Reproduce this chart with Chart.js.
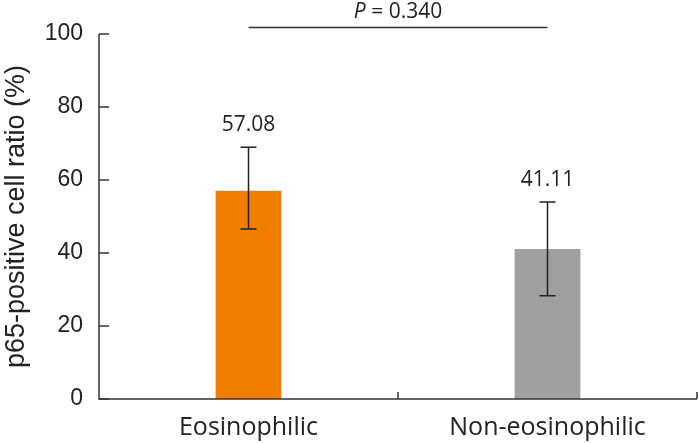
<!DOCTYPE html>
<html><head><meta charset="utf-8">
<script src="https://cdn.jsdelivr.net/npm/chart.js@4.4.1/dist/chart.umd.min.js"></script>
<style>html,body{margin:0;padding:0;background:#fff}#wrap{width:699px;height:443px}</style>
</head><body><div id="wrap"><canvas id="c" width="699" height="443"></canvas></div>
<script>
const categories = ["Eosinophilic", "Non-eosinophilic"];
const means = [57.08, 41.11];
const errLow = [46.6, 28.3];
const errHigh = [69.0, 54.0];
const valueLabels = ["57.08", "41.11"];
const yTicks = [0, 20, 40, 60, 80, 100];
const pText = "0.340";
const pLineValue = 101.8;

const FONT = "'Open Sans', 'Noto Sans', sans-serif";
const AFONT = "'Liberation Sans', Arial, sans-serif";
const TXT = "#222";

const deco = {
  id: 'deco',
  afterDatasetsDraw(chart) {
    const ctx = chart.ctx, xs = chart.scales.x, ys = chart.scales.y;
    const ca = chart.chartArea;
    ctx.save();
    ctx.strokeStyle = "#333"; ctx.lineWidth = 1.5;
    ctx.beginPath();
    ctx.moveTo(ca.left, ys.getPixelForValue(100)); ctx.lineTo(ca.left, ys.getPixelForValue(0));
    ctx.lineTo(ca.right, ys.getPixelForValue(0));
    ctx.stroke();
    yTicks.forEach(v => {
      const y = ys.getPixelForValue(v);
      ctx.beginPath(); ctx.moveTo(ca.left, y); ctx.lineTo(ca.left + 10, y); ctx.stroke();
    });
    const y0 = ys.getPixelForValue(0);
    for (let i = 1; i <= categories.length; i++) {
      const x = i < categories.length ? (xs.getPixelForValue(i - 1) + xs.getPixelForValue(i)) / 2 : ca.right;
      ctx.beginPath(); ctx.moveTo(x, y0); ctx.lineTo(x, y0 - 7); ctx.stroke();
    }
    ctx.strokeStyle = "#222"; ctx.lineWidth = 1.5;
    means.forEach((m, i) => {
      const x = xs.getPixelForValue(i);
      const yl = ys.getPixelForValue(errLow[i]), yh = ys.getPixelForValue(errHigh[i]);
      ctx.beginPath();
      ctx.moveTo(x, yl); ctx.lineTo(x, yh);
      ctx.moveTo(x - 8, yh); ctx.lineTo(x + 8, yh);
      ctx.moveTo(x - 8, yl); ctx.lineTo(x + 8, yl);
      ctx.stroke();
      ctx.fillStyle = TXT; ctx.font = "21px " + FONT;
      ctx.textAlign = "center"; ctx.textBaseline = "middle";
      ctx.fillText(valueLabels[i], x, yh - 22);
    });
    const yp = ys.getPixelForValue(pLineValue);
    const x1 = xs.getPixelForValue(0), x2 = xs.getPixelForValue(1);
    ctx.strokeStyle = "#333"; ctx.lineWidth = 1.5;
    ctx.beginPath(); ctx.moveTo(x1, yp); ctx.lineTo(x2, yp); ctx.stroke();
    ctx.fillStyle = TXT; ctx.textBaseline = "middle";
    const mid = (x1 + x2) / 2;
    ctx.font = "italic 21px " + FONT;
    const pW = ctx.measureText("P").width;
    ctx.font = "21px " + FONT;
    const rest = " = " + pText;
    const rW = ctx.measureText(rest).width;
    const sx = mid - (pW + rW) / 2;
    ctx.textAlign = "left";
    ctx.font = "italic 21px " + FONT; ctx.fillText("P", sx, yp - 15);
    ctx.font = "21px " + FONT; ctx.fillText(rest, sx + pW, yp - 15);
    ctx.restore();
  }
};

new Chart(document.getElementById('c'), {
  type: 'bar',
  data: {
    labels: categories,
    datasets: [{
      data: means,
      backgroundColor: ["#EF7D00", "#A0A0A0"],
      borderWidth: 0,
      categoryPercentage: 1,
      barPercentage: 0.22
    }]
  },
  options: {
    responsive: false,
    animation: false,
    devicePixelRatio: 1,
    layout: { padding: { top: 34, right: 2, left: 0, bottom: 0 } },
    plugins: { legend: { display: false }, tooltip: { enabled: false } },
    scales: {
      x: {
        offset: true,
        grid: { display: false, drawTicks: false },
        border: { display: false },
        ticks: { color: TXT, font: { size: 25, family: FONT }, padding: 14 },
        afterFit(s) { s.height = 44; }
      },
      y: {
        min: 0, max: 100,
        afterBuildTicks(s) { s.ticks = yTicks.map(v => ({ value: v })); },
        grid: { display: false, drawTicks: false },
        border: { display: false },
        ticks: { color: TXT, font: { size: 23, family: AFONT }, padding: 16 },
        title: { display: true, text: "p65-positive cell ratio (%)", color: TXT, font: { size: 27, family: AFONT }, padding: { top: 0, bottom: 4 } },
        afterFit(s) { s.width = 99; }
      }
    }
  },
  plugins: [deco]
});
</script>
</body></html>
